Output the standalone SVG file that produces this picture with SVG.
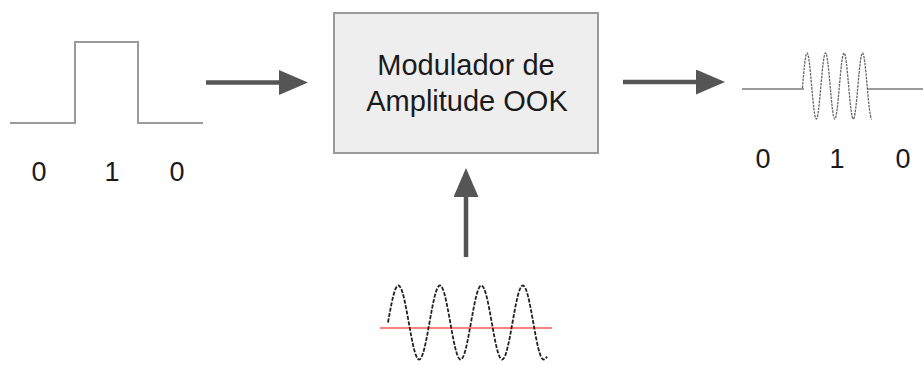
<svg xmlns="http://www.w3.org/2000/svg" width="923" height="365" viewBox="0 0 923 365">
  <style>
    .lbl { font-family: "Liberation Sans", Arial, sans-serif; fill: #1a1a1a; text-anchor: middle; }
    .big { font-size: 29px; }
    .dig { font-size: 27px; }
    .sig { fill: none; stroke: #9a9a9a; stroke-width: 2; }
    .burst { fill: none; stroke: #666; stroke-width: 1.3; stroke-dasharray: 2.5 1; }
    .carrier { fill: none; stroke: #222; stroke-width: 1.8; stroke-dasharray: 4 1.5; }
    .conn { fill: none; stroke: #555; stroke-width: 4.5; }
  </style>
  <defs>
    <marker id="head" markerUnits="userSpaceOnUse" viewBox="0 0 29 25" refX="0" refY="12.5" markerWidth="29" markerHeight="25" orient="auto">
      <path d="M0,0 L29,12.5 L0,25 Z" fill="#555"/>
    </marker>
  </defs>
  <rect width="923" height="365" fill="#ffffff"/>

  <g id="input-signal">
    <path class="sig" d="M10,123 H75 V42 H138 V123 H203"/>
    <text class="lbl dig" x="39" y="181">0</text>
    <text class="lbl dig" x="112" y="181">1</text>
    <text class="lbl dig" x="177" y="181">0</text>
  </g>

  <g id="modulator">
    <rect x="334" y="13" width="264" height="140" fill="#eeeeee" stroke="#9a9a9a" stroke-width="2"/>
    <text class="lbl big" x="466" y="75">Modulador de</text>
    <text class="lbl big" x="467" y="110.5">Amplitude OOK</text>
  </g>

  <g id="output-signal">
    <path class="sig" d="M742,89 H804 M868,89 H923"/>
    <path class="burst" d="M802.4,88 c1.508,-16.906 2.951,-35 4.625,-35 s3.117,16.094 4.625,33 s2.951,33 4.625,33 s3.117,-16.094 4.625,-33 s2.951,-33 4.625,-33 s3.117,16.094 4.625,33 s2.951,33 4.625,33 s3.117,-16.094 4.625,-33 s2.951,-33 4.625,-33 s3.117,16.094 4.625,33 s2.951,33 4.625,33 s3.117,-16.094 4.625,-33 s2.951,-33 4.625,-33 s3.117,16.094 4.625,33 s2.951,33 4.625,33"/>
    <text class="lbl dig" x="763" y="167.5">0</text>
    <text class="lbl dig" x="837" y="167.5">1</text>
    <text class="lbl dig" x="903" y="167.5">0</text>
  </g>

  <g id="carrier">
    <line x1="380" y1="328" x2="552" y2="328" stroke="#ff8080" stroke-width="2"/>
    <path class="carrier" d="M388,322.5 c3.383,-18.955 6.62,-37 10.375,-37 s6.992,18.045 10.375,37 s6.62,37 10.375,37 s6.992,-18.045 10.375,-37 s6.62,-37 10.375,-37 s6.992,18.045 10.375,37 s6.62,37 10.375,37 s6.992,-18.045 10.375,-37 s6.62,-37 10.375,-37 s6.992,18.045 10.375,37 s6.62,37 10.375,37 s6.992,-18.045 10.375,-37 s6.62,-37 10.375,-37 s6.992,18.045 10.375,37 s6.62,37 10.375,37 c1.2,0 2.4,-1 3.4,-3"/>
  </g>

  <g id="connectors">
    <line class="conn" x1="206" y1="82.5" x2="279" y2="82.5" marker-end="url(#head)"/>
    <line class="conn" x1="623" y1="82" x2="696" y2="82" marker-end="url(#head)"/>
    <line class="conn" x1="466" y1="257" x2="466" y2="197" marker-end="url(#head)"/>
  </g>
</svg>
